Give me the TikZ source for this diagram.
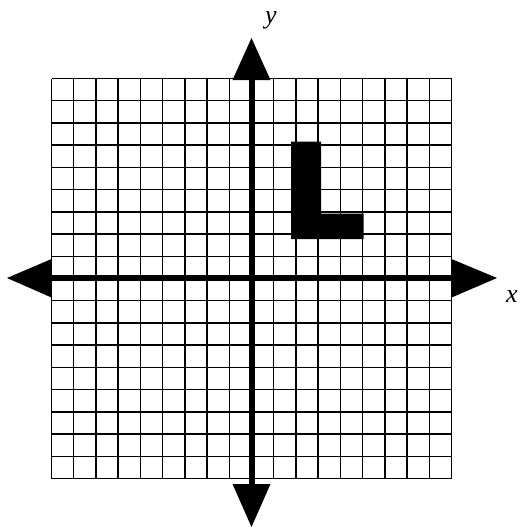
\documentclass[tikz,border=0pt]{standalone}
\usepackage{fontspec}
\setmainfont{Liberation Serif}
\begin{document}
\begin{tikzpicture}[x=1pt,y=-1pt,
  gridline/.style={black,line width=1.4pt},
  axisline/.style={black,line width=6pt},
  headshape/.style={fill=black,draw=none},
  lbl/.style={font=\fontsize{26}{26}\selectfont\itshape,inner sep=0pt}]
\useasboundingbox (0,0) rectangle (521,527);
% grid 18x18
\foreach \i in {0,...,18}{
  \draw[gridline] ({51.5+\i*400/18},78.5) -- ({51.5+\i*400/18},478.5);
  \draw[gridline] (51.5,{78.5+\i*400/18}) -- (451.5,{78.5+\i*400/18});
}
% named axis ends
\coordinate (yt) at (251.5,80);
\coordinate (yb) at (251.5,484);
\coordinate (xl) at (51.5,278);
\coordinate (xr) at (451.5,278);
% axes
\draw[axisline] (yt) -- (yb);
\draw[axisline] (xl) -- (xr);
% arrow heads
\fill[headshape] (232.5,80) -- (251.5,38) -- (270.5,80) -- cycle;
\fill[headshape] (232.5,484) -- (251.5,527) -- (270.5,484) -- cycle;
\fill[headshape] (51.5,259) -- (7,278) -- (51.5,297.5) -- cycle;
\fill[headshape] (451.5,259) -- (497,278) -- (451.5,297.5) -- cycle;
% L shape
\fill[black] (291,141.5) -- (321,141.5) -- (321,213.5) -- (363.5,213.5) -- (363.5,239) -- (291,239) -- cycle;
% labels
\node[lbl,anchor=base west] (ylab) at (265,24) {y};
\node[lbl,anchor=base west] (xlab) at (506,302) {x};
\end{tikzpicture}
\end{document}
